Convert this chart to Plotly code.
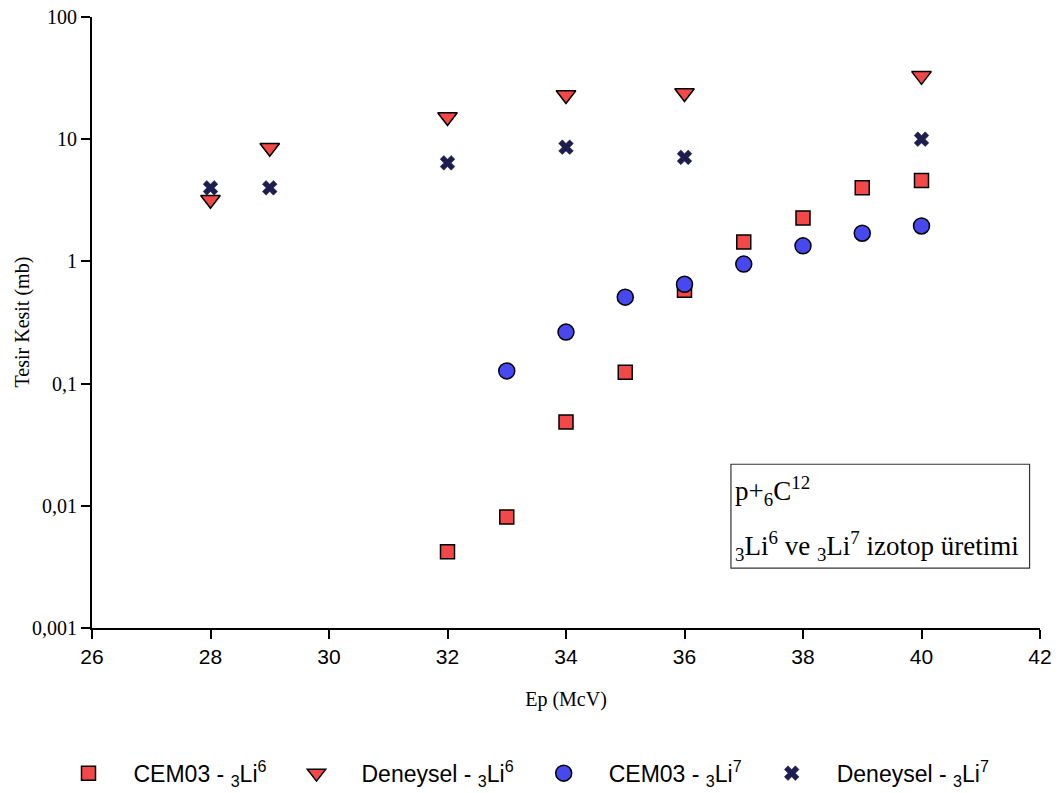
import plotly.graph_objects as go

# Energies (MeV)
ep_dene_li6 = [28, 29, 32, 34, 36, 40]
dene_li6 = [3.2, 8.5, 15.2, 23.0, 23.9, 33.0]

ep_dene_li7 = [28, 29, 32, 34, 36, 40]
dene_li7 = [4.0, 4.0, 6.4, 8.6, 7.1, 10.0]

ep_cem_li6 = [32, 33, 34, 35, 36, 37, 38, 39, 40]
cem_li6 = [0.0042, 0.0081, 0.0485, 0.124, 0.58, 1.44, 2.27, 4.0, 4.6]

ep_cem_li7 = [33, 34, 35, 36, 37, 38, 39, 40]
cem_li7 = [0.127, 0.264, 0.51, 0.65, 0.95, 1.34, 1.7, 1.95]

y_tickvals = [0.001, 0.01, 0.1, 1, 10, 100]
y_ticktext = ["0,001", "0,01", "0,1", "1", "10", "100"]
x_tickvals = [26, 28, 30, 32, 34, 36, 38, 40, 42]

RED = "#F24848"
BLUE = "#4848F0"
NAVY = "#1E1E4E"
SERIF = "Liberation Serif, Times New Roman, serif"
SANS = "Liberation Sans, Arial, sans-serif"

fig = go.Figure()
fig.add_trace(go.Scatter(
    x=ep_cem_li6, y=cem_li6, mode="markers", name="CEM03 - <sub>3</sub>Li<sup>6</sup>",
    marker=dict(symbol="square", size=14, color=RED, line=dict(color="black", width=1.5))))
fig.add_trace(go.Scatter(
    x=ep_dene_li6, y=dene_li6, mode="markers", name="Deneysel - <sub>3</sub>Li<sup>6</sup>",
    marker=dict(symbol="triangle-down", size=17, color=RED, line=dict(color="black", width=1.5))))
fig.add_trace(go.Scatter(
    x=ep_cem_li7, y=cem_li7, mode="markers", name="CEM03 - <sub>3</sub>Li<sup>7</sup>",
    marker=dict(symbol="circle", size=16, color=BLUE, line=dict(color="black", width=1.5))))
fig.add_trace(go.Scatter(
    x=ep_dene_li7, y=dene_li7, mode="markers", name="Deneysel - <sub>3</sub>Li<sup>7</sup>",
    marker=dict(symbol="x", size=13, color=NAVY, line=dict(color=NAVY, width=0.5))))

fig.add_shape(type="rect", xref="paper", yref="paper", x0=0.674, x1=0.989, y0=0.098, y1=0.268,
              line=dict(color="#333333", width=1.2), fillcolor="white", layer="below")
fig.add_annotation(xref="paper", yref="paper", x=0.676, y=0.225, xanchor="left", yanchor="middle",
                   text="p+<sub>6</sub>C<sup>12</sup>", showarrow=False,
                   font=dict(family=SERIF, size=27, color="black"))
fig.add_annotation(xref="paper", yref="paper", x=0.676, y=0.135, xanchor="left", yanchor="middle",
                   text="<sub>3</sub>Li<sup>6</sup> ve <sub>3</sub>Li<sup>7</sup> izotop üretimi", showarrow=False,
                   font=dict(family=SERIF, size=27, color="black"))
# y-axis title
fig.add_annotation(xref="paper", yref="paper", x=(22 - 92) / 948, y=0.5, xanchor="center", yanchor="middle",
                   text="Tesir Kesit (mb)", textangle=-90, showarrow=False,
                   font=dict(family=SERIF, size=20, color="black"))

fig.update_layout(
    width=1061, height=793,
    margin=dict(l=92, r=21, t=17, b=165, autoexpand=False),
    plot_bgcolor="white", paper_bgcolor="white",
    showlegend=True,
    legend=dict(orientation="h", xref="container", yref="container", x=0.041, y=0.025,
                xanchor="left", yanchor="middle",
                font=dict(family=SANS, size=23, color="black"),
                itemwidth=80),
    xaxis=dict(range=[26, 42], tickvals=x_tickvals, showgrid=False, zeroline=False,
               automargin=False,
               showline=True, linecolor="black", linewidth=2,
               ticks="outside", ticklen=9, tickwidth=1.5, tickcolor="black",
               tickfont=dict(family=SANS, size=21, color="black"),
               title=dict(text="Ep (McV)", font=dict(family=SERIF, size=20, color="black"), standoff=25)),
    yaxis=dict(type="log", range=[-3, 2], tickvals=y_tickvals, ticktext=y_ticktext,
               automargin=False,
               showgrid=False, zeroline=False, showline=True, linecolor="black", linewidth=2,
               ticks="outside", ticklen=9, tickwidth=1.5, tickcolor="black",
               tickfont=dict(family=SERIF, size=20, color="black")),
)

fig.write_html("out.html", post_script="document.body.style.margin='0';",
               config={"displayModeBar": False})
